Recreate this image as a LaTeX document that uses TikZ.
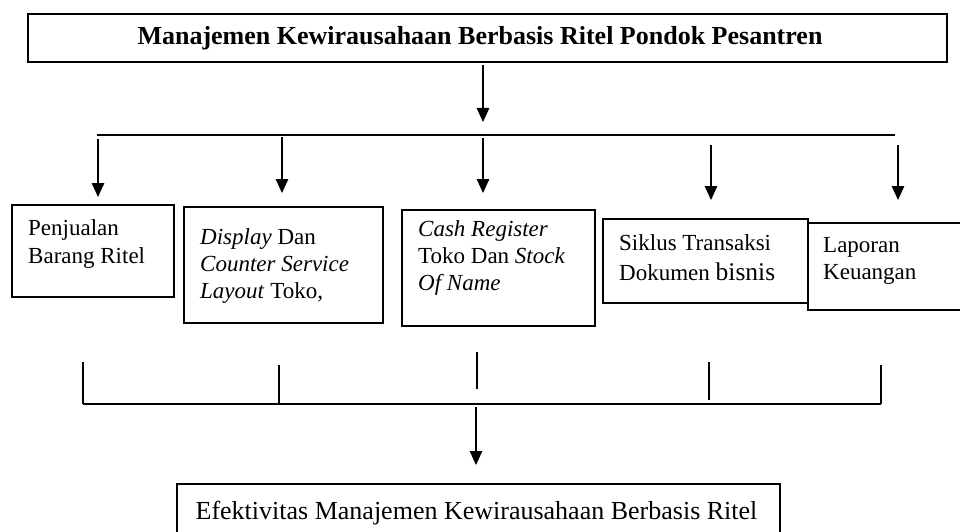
\documentclass[tikz,border=0pt]{standalone}
\usepackage{fontspec}
\setmainfont{Liberation Serif}
\usetikzlibrary{arrows.meta}
\begin{document}
\begin{tikzpicture}[x=1pt,y=-1pt,
  box/.style={draw=black,line width=1.6pt,rectangle,anchor=north west,inner sep=0pt},
  txt/.style={anchor=base west,inner sep=0pt,align=left,font=\fontsize{23}{27}\selectfont},
  conn/.style={line width=1.3pt},
  arr/.style={line width=1.3pt,-{Triangle[width=12.5pt,length=14pt]}}]
\useasboundingbox (0,0) rectangle (960,532);
% top box
\node[box,minimum width=919pt,minimum height=48pt] (top) at (27,13) {};
\node[anchor=base,inner sep=0pt,font=\fontsize{26}{30}\selectfont\bfseries] (title) at (480,45) {Manajemen Kewirausahaan Berbasis Ritel Pondok Pesantren};
% top arrow and branch line
\coordinate (ta) at (483,65);
\coordinate (tb) at (483,122);
\draw[arr] (ta) -- (tb);
\coordinate (hl) at (97,135);
\coordinate (hr) at (895,135);
\draw[conn] (hl) -- (hr);
% boxes
\node[box,minimum width=162pt,minimum height=92pt] (b1) at (11,204) {};
\node[box,minimum width=199pt,minimum height=116pt] (b2) at (183,206) {};
\node[box,minimum width=193pt,minimum height=116pt] (b3) at (401,209) {};
\node[box,minimum width=205pt,minimum height=84pt] (b4) at (602,218) {};
\node[box,minimum width=165pt,minimum height=87pt] (b5) at (807,222) {};
\node[txt] (t1) at (28,263) {Penjualan\\[1pt]Barang Ritel};
\node[txt] (t2) at (200,298) {\textit{Display} Dan\\\textit{Counter Service}\\\textit{Layout} Toko,};
\node[txt] (t3) at (418,290) {\textit{Cash Register}\\Toko Dan \textit{Stock}\\\textit{Of Name}};
\node[txt] (t4) at (619,280) {Siklus Transaksi\\[3pt]Dokumen {\fontsize{25.5}{27}\selectfont bisnis}};
\node[txt] (t5) at (823,279) {Laporan\\Keuangan};
% arrows to boxes
\coordinate (a1s) at (98,139);  \coordinate (a1e) at (98,197);
\coordinate (a2s) at (282,137); \coordinate (a2e) at (282,193);
\coordinate (a3s) at (483,138); \coordinate (a3e) at (483,193);
\coordinate (a4s) at (711,145); \coordinate (a4e) at (711,200);
\coordinate (a5s) at (898,145); \coordinate (a5e) at (898,200);
\draw[arr] (a1s) -- (a1e);
\draw[arr] (a2s) -- (a2e);
\draw[arr] (a3s) -- (a3e);
\draw[arr] (a4s) -- (a4e);
\draw[arr] (a5s) -- (a5e);
% lower lines
\coordinate (v1s) at (83,362);  \coordinate (v1e) at (83,404);
\coordinate (v2s) at (279,365); \coordinate (v2e) at (279,404);
\coordinate (v3s) at (477,352); \coordinate (v3e) at (477,389);
\coordinate (v4s) at (709,362); \coordinate (v4e) at (709,400);
\coordinate (v5s) at (881,365); \coordinate (v5e) at (881,404);
\draw[conn] (v1s) -- (v1e);
\draw[conn] (v2s) -- (v2e);
\draw[conn] (v3s) -- (v3e);
\draw[conn] (v4s) -- (v4e);
\draw[conn] (v5s) -- (v5e);
\draw[conn] (v1e) -- (v5e);
% bottom arrow and box
\coordinate (ba) at (476,407);
\coordinate (bb) at (476,465);
\draw[arr] (ba) -- (bb);
\node[box,minimum width=603pt,minimum height=60pt] (bot) at (176,483) {};
\node[anchor=base,inner sep=0pt,font=\fontsize{26}{30}\selectfont] (bt) at (476.5,519) {Efektivitas Manajemen Kewirausahaan Berbasis Ritel};
\end{tikzpicture}
\end{document}
